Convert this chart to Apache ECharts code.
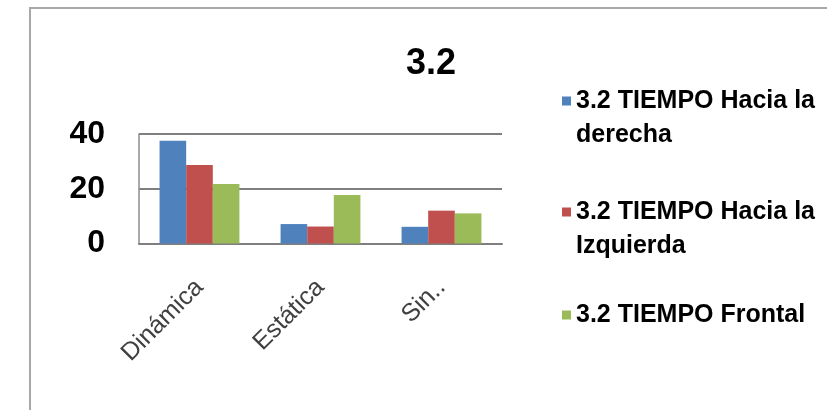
<!DOCTYPE html>
<html>
<head>
<meta charset="utf-8">
<script src="https://cdn.jsdelivr.net/npm/echarts@6/dist/echarts.min.js"></script>
<style>
  html, body { margin: 0; padding: 0; background: #ffffff; }
  #chart { width: 827px; height: 410px; }
</style>
</head>
<body>
<div id="chart"></div>
<script>
// Categories and series values
const categories = ['Dinámica', 'Estática', 'Sin..'];
const seriesNames = [
  '3.2 TIEMPO Hacia la derecha',
  '3.2 TIEMPO Hacia la izquierda',
  '3.2 TIEMPO Frontal'
];
const derecha = [37.5, 7.1, 6.1];
const izquierda = [28.7, 6.2, 12];
const frontal = [21.7, 17.7, 11];
const yTicks = [0, 20, 40];

const colors = ['#4F81BD', '#C0504D', '#9BBB59'];
const seriesData = [derecha, izquierda, frontal];

// Legend entries wrap onto a second line; the marker sits on the first line
const legendFirstLine = ['3.2 TIEMPO Hacia la', '3.2 TIEMPO Hacia la', '3.2 TIEMPO Frontal'];
const legendSecondLine = ['derecha', 'Izquierda', ''];
const legendTops = [84, 195, 298];

const FONT = 'Liberation Sans, Arial, sans-serif';
const legendFont = {
  fontFamily: FONT,
  fontWeight: 'bold',
  fontSize: 25,
  color: '#000000',
  lineHeight: 34
};

const legends = seriesNames.map(function (name, i) {
  return {
    data: [{ name: name, icon: 'rect' }],
    left: 562,
    top: legendTops[i],
    padding: 0,
    itemWidth: 9,
    itemHeight: 9,
    selectedMode: false,
    formatter: function () { return legendFirstLine[i]; },
    textStyle: legendFont
  };
});

// continuation lines of the wrapped legend labels
const continuationTitles = [];
legendSecondLine.forEach(function (txt, i) {
  if (!txt) return;
  continuationTitles.push({
    text: txt,
    left: 576,
    top: legendTops[i] + 34,
    padding: 0,
    textStyle: legendFont
  });
});

const chart = echarts.init(document.getElementById('chart'), null, { renderer: 'canvas' });

chart.setOption({
  backgroundColor: '#ffffff',
  animation: false,
  color: colors,
  title: [{
    text: '3.2',
    left: 406,
    top: 46,
    padding: 0,
    textStyle: {
      fontFamily: FONT,
      fontWeight: 'bold',
      fontSize: 36,
      color: '#000000'
    }
  }].concat(continuationTitles),
  legend: legends,
  graphic: [{
    type: 'rect',
    shape: { x: 30, y: 8, width: 900, height: 500 },
    style: { fill: 'none', stroke: '#a8a8a8', lineWidth: 2 },
    silent: true,
    z: -1
  }],
  grid: {
    left: 139,
    right: 325,
    top: 134,
    bottom: 166.5,
    containLabel: false
  },
  xAxis: {
    type: 'category',
    data: categories,
    axisLine: { show: true, lineStyle: { color: '#7f7f7f', width: 2 } },
    axisTick: { show: false },
    axisLabel: {
      rotate: 45,
      margin: 40,
      fontFamily: FONT,
      fontSize: 25,
      color: '#404040'
    }
  },
  yAxis: {
    type: 'value',
    min: 0,
    max: yTicks[yTicks.length - 1],
    interval: yTicks[1] - yTicks[0],
    axisLine: { show: true, lineStyle: { color: '#8c8c8c', width: 1.5 } },
    axisTick: { show: false },
    splitLine: { show: true, lineStyle: { color: '#7f7f7f', width: 2 } },
    axisLabel: {
      margin: 34,
      fontFamily: FONT,
      fontWeight: 'bold',
      fontSize: 32,
      color: '#000000'
    }
  },
  series: seriesNames.map(function (name, i) {
    return {
      name: name,
      type: 'bar',
      data: seriesData[i],
      barGap: '0%',
      barCategoryGap: '34%',
      itemStyle: { color: colors[i] }
    };
  })
});
</script>
</body>
</html>
